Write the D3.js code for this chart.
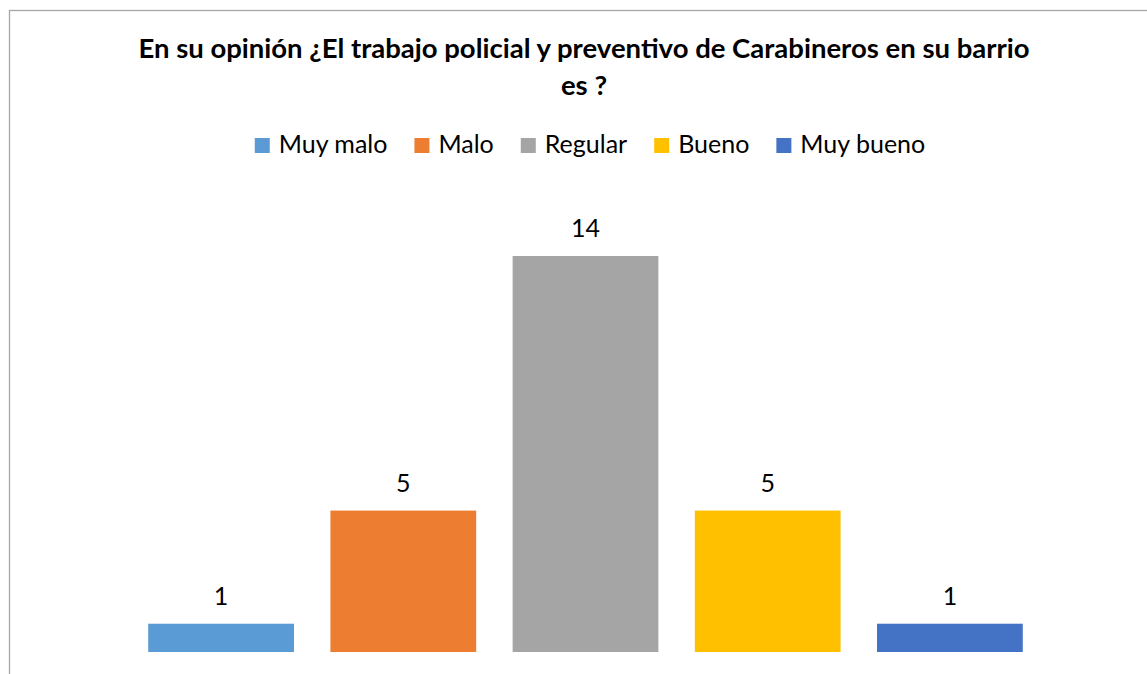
<!DOCTYPE html>
<html lang="es">
<head>
    <meta charset="UTF-8">
    <title>Trabajo policial</title>
    <script src="https://d3js.org/d3.v7.min.js"></script>
    <style>
        body {
            margin: 0;
            background: #fff;
            font-family: "Lato", "Open Sans", sans-serif;
        }
        svg text {
            fill: #000;
        }
    </style>
</head>
<body>
    <div id="chart"></div>

    <script>
        // data
        const categories = ["Muy malo", "Malo", "Regular", "Bueno", "Muy bueno"];
        const values = [1, 5, 14, 5, 1];
        const colors = ["#5B9BD5", "#ED7D31", "#A5A5A5", "#FFC000", "#4472C4"];
        const titleLines = ["En su opinión ¿El trabajo policial y preventivo de Carabineros en su barrio", "es ?"];

        const width = 1147, height = 674;
        const svg = d3.select("#chart").append("svg")
            .attr("width", width)
            .attr("height", height);

        // chart border (right and bottom edges fall outside the window)
        svg.append("rect")
            .attr("x", 9.5)
            .attr("y", 10.5)
            .attr("width", 1160)
            .attr("height", 700)
            .attr("fill", "none")
            .attr("stroke", "#a6a6a6")
            .attr("stroke-width", 1.3);

        // title
        svg.append("text")
            .attr("x", 584)
            .attr("y", 58)
            .attr("text-anchor", "middle")
            .style("font-size", "27.5px")
            .style("font-weight", "bold")
            .selectAll("tspan")
            .data(titleLines)
            .enter().append("tspan")
            .attr("x", 584)
            .attr("dy", (d, i) => i === 0 ? 0 : 37)
            .text(d => d);

        // scales
        const x = d3.scaleBand()
            .domain(categories)
            .range([130, 1041])
            .paddingInner(0.2)
            .paddingOuter(0.1);

        const y = d3.scaleLinear()
            .domain([0, 14])
            .range([652, 256]);

        // bars
        svg.selectAll(".bar")
            .data(categories)
            .enter().append("rect")
            .attr("class", "bar")
            .attr("x", d => x(d))
            .attr("y", (d, i) => y(values[i]))
            .attr("width", x.bandwidth())
            .attr("height", (d, i) => y(0) - y(values[i]))
            .attr("fill", (d, i) => colors[i]);

        // value labels
        svg.selectAll(".label")
            .data(categories)
            .enter().append("text")
            .attr("class", "label")
            .attr("x", d => x(d) + x.bandwidth() / 2)
            .attr("y", (d, i) => y(values[i]) - 19)
            .attr("text-anchor", "middle")
            .style("font-size", "25px")
            .text((d, i) => values[i]);

        // legend
        const legend = svg.append("g");
        let lx = 0;
        categories.forEach((c, i) => {
            const item = legend.append("g").attr("transform", `translate(${lx},0)`);
            item.append("rect")
                .attr("x", 0)
                .attr("y", -15)
                .attr("width", 15)
                .attr("height", 15)
                .attr("fill", colors[i]);
            const t = item.append("text")
                .attr("x", 24)
                .attr("y", 0)
                .style("font-size", "25px")
                .text(c);
            lx += 24 + t.node().getComputedTextLength() + 27;
        });
        const legendWidth = lx - 27;
        legend.attr("transform", `translate(${590 - legendWidth / 2},153)`);
    </script>
</body>
</html>
